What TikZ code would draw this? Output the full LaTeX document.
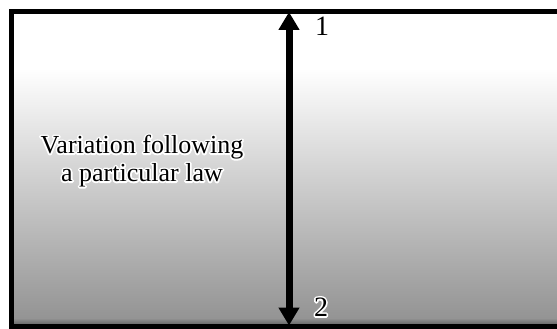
\documentclass[tikz,border=0pt]{standalone}
\usepackage{fontspec}
\setmainfont{Liberation Serif}
\usetikzlibrary{arrows.meta}
\newcommand{\haloon}{\special{pdf:literal direct 1 Tr 3.4 w 1 j 1 1 1 RG}}
\newcommand{\halooff}{\special{pdf:literal direct 0 Tr 0 0 0 RG}}
\tikzset{
  lawtext/.style={align=center, inner sep=0pt, font=\fontsize{26}{28}\selectfont},
  numtext/.style={inner sep=0pt, font=\fontsize{28}{28}\selectfont},
}
\begin{document}
\begin{tikzpicture}[x=1pt, y=-1pt, >={Triangle[width=20pt,length=18pt]}]
  \useasboundingbox (0,0) rectangle (557,329);
  \clip (0,0) rectangle (557,329);
  % shaded box
  \fill[white] (11.5,11.5) rectangle (570,68);
  \shade[top color=white, bottom color=black!42] (11.5,68) rectangle (570,318);
  \shade[top color=black!42, bottom color=black!65] (11.5,318) rectangle (570,326.5);
  \draw[line width=5pt] (570,11.5) -- (11.5,11.5) -- (11.5,326.5) -- (570,326.5);
  % double arrow
  \coordinate (top) at (289,12);
  \coordinate (bot) at (289,325.5);
  \draw[<->, line width=7pt] (top) -- (bot);
  % labels: white outline first, then black text on top
  \node[lawtext] (lawhalo) at (142,161) {\haloon Variation following\halooff\\\haloon a particular law\halooff};
  \node[lawtext] (law) at (lawhalo) {Variation following\\a particular law};
  \node[numtext] (onehalo) at (322,26) {\haloon 1\halooff};
  \node[numtext] (one) at (onehalo) {1};
  \node[numtext] (twohalo) at (321,307) {\haloon 2\halooff};
  \node[numtext] (two) at (twohalo) {2};
\end{tikzpicture}
\end{document}
